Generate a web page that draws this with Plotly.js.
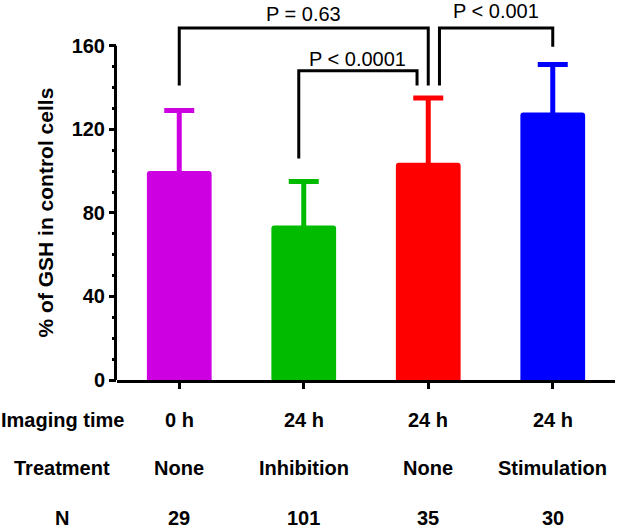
<!DOCTYPE html>
<html>
<head>
<meta charset="utf-8">
<script src="https://cdn.plot.ly/plotly-3.0.1.min.js"></script>
<style>html,body{margin:0;padding:0;background:#fff;}</style>
</head>
<body>
<div id="myDiv" style="width:618px;height:530px;"></div>
<script>
var groups = [0, 1, 2, 3];
var means = [100, 74, 104, 128];
var errUp = [29, 21, 31, 23];
var barColors = ['#cc00e0', '#00bb00', '#ff0000', '#0000ff'];

var imagingTime = ['0 h', '24 h', '24 h', '24 h'];
var treatment = ['None', 'Inhibition', 'None', 'Stimulation'];
var nCells = ['29', '101', '35', '30'];
var rowLabels = ['Imaging time', 'Treatment', 'N'];
var yTitle = '% of GSH in control cells';

// significance brackets
var brLeft = [0, 0.96, 2.09];
var brRight = [2, 1.91, 3];
var brTop = [168.5, 148, 168.5];
var brLegL = [141, 106, 141];
var brLegR = [141, 141, 159.5];
var brText = ['P = 0.63', 'P < 0.0001', 'P < 0.001'];
var brTextY = [175, 153.5, 176.5];

var font = 'Arial, "Liberation Sans", sans-serif';

var data = groups.map(function (g, i) {
  return {
    type: 'bar',
    x: [g],
    y: [means[i]],
    width: 0.52,
    marker: {color: barColors[i], cornerradius: 3},
    error_y: {
      type: 'data',
      array: [errUp[i]],
      color: barColors[i],
      thickness: 5,
      width: 15
    },
    showlegend: false,
    hoverinfo: 'none'
  };
});

// y axis line only up to 160 (range goes higher for the brackets)
var shapes = [{
  type: 'line', xref: 'paper', yref: 'y',
  xsizemode: 'pixel', xanchor: 0, x0: -1.5, x1: -1.5,
  y0: 0, y1: 160,
  line: {color: '#000', width: 3}
}];
brLeft.forEach(function (x0, i) {
  shapes.push({
    type: 'path', xref: 'x', yref: 'y',
    path: 'M' + x0 + ',' + brLegL[i] + ' L' + x0 + ',' + brTop[i] +
          ' L' + brRight[i] + ',' + brTop[i] + ' L' + brRight[i] + ',' + brLegR[i],
    line: {color: '#000', width: 3}
  });
});

var annotations = [{
  x: 0, xref: 'paper', xshift: -71.5, y: 80, yref: 'y',
  text: yTitle, textangle: -90, showarrow: false,
  xanchor: 'center', yanchor: 'middle',
  font: {family: font, size: 21, color: '#000', weight: 'bold'}
}];
brText.forEach(function (t, i) {
  annotations.push({
    x: (brLeft[i] + brRight[i]) / 2, y: brTextY[i], xref: 'x', yref: 'y',
    text: t, showarrow: false, xanchor: 'center', yanchor: 'middle',
    font: {family: font, size: 20, color: '#000'}
  });
});
var rows = [imagingTime, treatment, nCells];
var rowShift = [-40, -88, -138];
rows.forEach(function (row, r) {
  annotations.push({
    x: 0, xref: 'paper', xshift: -55, y: 0, yref: 'paper', yshift: rowShift[r],
    text: rowLabels[r], showarrow: false, xanchor: 'center', yanchor: 'middle',
    font: {family: font, size: 20, color: '#000', weight: 'bold'}
  });
  row.forEach(function (t, i) {
    annotations.push({
      x: groups[i], xref: 'x', y: 0, yref: 'paper', yshift: rowShift[r],
      text: t, showarrow: false, xanchor: 'center', yanchor: 'middle',
      font: {family: font, size: 20, color: '#000', weight: 'bold'}
    });
  });
});

var minorTicks = [];
for (var v = 10; v < 160; v += 10) { if (v % 40) minorTicks.push(v); }

var layout = {
  width: 618,
  height: 530,
  margin: {l: 117, r: 3, t: 4, b: 150},
  barmode: 'overlay',
  paper_bgcolor: '#fff',
  plot_bgcolor: '#fff',
  font: {family: font, color: '#000'},
  xaxis: {
    range: [-0.5, 3.5],
    tickmode: 'array',
    tickvals: groups,
    showticklabels: false,
    ticks: 'outside',
    ticklen: 6,
    tickwidth: 3,
    tickcolor: '#000',
    showline: true,
    linewidth: 3,
    linecolor: '#000',
    showgrid: false,
    zeroline: false
  },
  yaxis: {
    range: [0, 180],
    tick0: 0,
    dtick: 40,
    ticks: 'outside',
    ticklen: 7,
    tickwidth: 3,
    tickcolor: '#000',
    tickfont: {family: font, size: 20, weight: 'bold'},
    minor: {ticks: 'outside', tickmode: 'array', tickvals: minorTicks, ticklen: 4, tickwidth: 3, tickcolor: '#000'},
    showline: false,
    showgrid: false,
    zeroline: false
  },
  shapes: shapes,
  annotations: annotations
};

Plotly.newPlot('myDiv', data, layout, {displayModeBar: false, staticPlot: true});
</script>
</body>
</html>
